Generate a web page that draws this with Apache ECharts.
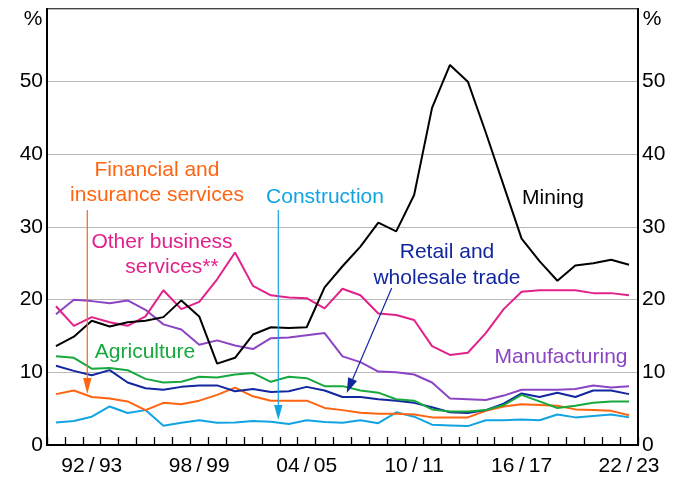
<!DOCTYPE html>
<html>
<head>
<meta charset="utf-8">
<script src="https://cdn.jsdelivr.net/npm/echarts@6/dist/echarts.min.js"></script>
<style>
  html, body { margin: 0; padding: 0; background: #fff; }
  #chart { width: 675px; height: 478px; }
</style>
</head>
<body>
<div id="chart"></div>
<script>
// financial years, 1990/91 to 2022/23
var years = ['90/91','91/92','92/93','93/94','94/95','95/96','96/97','97/98','98/99','99/00',
  '00/01','01/02','02/03','03/04','04/05','05/06','06/07','07/08','08/09','09/10',
  '10/11','11/12','12/13','13/14','14/15','15/16','16/17','17/18','18/19','19/20',
  '20/21','21/22','22/23'];
var shownYears = ['92/93','98/99','04/05','10/11','16/17','22/23'];
var yTicks = [0, 10, 20, 30, 40, 50];

var mining = [13.6,14.9,17.1,16.3,16.9,17.1,17.6,19.9,17.7,11.2,
  12.0,15.2,16.2,16.1,16.2,21.7,24.6,27.3,30.6,29.4,
  34.4,46.4,52.3,50.0,43.0,35.7,28.4,25.3,22.6,24.7,
  25.0,25.5,24.8];
var otherBusiness = [19.1,16.4,17.6,16.9,16.4,17.7,21.3,18.7,19.7,22.8,
  26.5,21.9,20.6,20.3,20.2,18.8,21.5,20.6,18.1,17.9,
  17.2,13.6,12.4,12.7,15.4,18.7,21.1,21.3,21.3,21.3,
  20.9,20.9,20.6];
var manufacturing = [18.0,20.0,19.8,19.5,19.9,18.6,16.6,15.9,13.8,14.4,
  13.7,13.2,14.7,14.8,15.1,15.4,12.2,11.4,10.1,10.0,
  9.7,8.6,6.4,6.3,6.2,6.8,7.6,7.6,7.6,7.7,
  8.2,7.9,8.1];
var agriculture = [12.2,12.0,10.5,10.6,10.3,9.1,8.6,8.7,9.4,9.3,
  9.7,9.9,8.7,9.4,9.2,8.1,8.1,7.5,7.2,6.3,
  6.1,4.9,4.6,4.6,4.8,5.5,6.9,6.0,5.1,5.4,
  5.8,6.0,6.0];
var retail = [10.9,10.2,9.6,10.3,8.6,7.8,7.6,8.0,8.2,8.2,
  7.4,7.7,7.3,7.4,8.0,7.5,6.6,6.6,6.3,6.1,
  5.8,5.2,4.5,4.4,4.8,5.7,7.1,6.6,7.2,6.6,
  7.5,7.5,7.0];
var financial = [7.0,7.5,6.6,6.4,6.0,4.8,5.8,5.6,6.1,6.9,
  7.9,6.7,6.1,6.1,6.1,5.1,4.8,4.45,4.3,4.3,
  4.2,3.8,3.8,3.8,4.7,5.3,5.6,5.5,5.4,4.9,
  4.8,4.7,4.1];
var construction = [3.1,3.3,3.9,5.3,4.4,4.8,2.65,3.05,3.4,3.05,
  3.1,3.3,3.2,2.9,3.4,3.15,3.05,3.4,3.0,4.5,
  3.9,2.8,2.7,2.6,3.4,3.4,3.5,3.4,4.2,3.8,
  4.0,4.2,3.8];

var FONT = "Arial, 'Liberation Sans', sans-serif";
var COL = {
  mining: '#000000',
  other: '#E2218A',
  manu: '#8B45C4',
  agri: '#17A83E',
  retail: '#1226A0',
  fin: '#FF6410',
  cons: '#12A3E2'
};

var chart = echarts.init(document.getElementById('chart'), null, { renderer: 'canvas' });

function lineSeries(name, data, color) {
  return {
    name: name,
    type: 'line',
    data: data,
    symbol: 'none',
    smooth: false,
    lineStyle: { color: color, width: 2 },
    z: 3
  };
}

function txt(x, y, text, color) {
  return {
    type: 'text',
    x: x, y: y,
    style: {
      text: text, fill: color, font: '21px ' + FONT,
      align: 'center', verticalAlign: 'middle'
    },
    z: 10
  };
}

// arrow annotation: thin line with a filled head at (x2, y2)
function arrow(x1, y1, x2, y2, color, headLen, headHalf) {
  var dx = x2 - x1, dy = y2 - y1;
  var len = Math.sqrt(dx * dx + dy * dy);
  var ux = dx / len, uy = dy / len;
  var bx = x2 - ux * headLen, by = y2 - uy * headLen;
  return [{
    type: 'line',
    shape: { x1: x1, y1: y1, x2: bx, y2: by },
    style: { stroke: color, lineWidth: 1.2 },
    z: 10
  }, {
    type: 'polygon',
    shape: { points: [[x2, y2], [bx - uy * headHalf, by + ux * headHalf], [bx + uy * headHalf, by - ux * headHalf]] },
    style: { fill: color },
    z: 10
  }];
}

function yAxis(pos) {
  return {
    type: 'value',
    position: pos,
    min: 0,
    max: 60,
    interval: 10,
    axisLine: { show: true, lineStyle: { color: '#000', width: 2 } },
    axisTick: { show: false },
    axisLabel: {
      color: '#000', fontSize: 21, fontFamily: FONT, margin: 4,
      formatter: function (v) { return yTicks.indexOf(v) >= 0 ? String(v) : ''; }
    },
    splitLine: { show: pos === 'left', lineStyle: { color: '#b9b9b9', width: 1.2 } }
  };
}

var graphics = [
  txt(33, 19, '%', '#000'),
  txt(652, 19, '%', '#000'),
  txt(157, 170, 'Financial and', COL.fin),
  txt(157, 195, 'insurance services', COL.fin),
  txt(325, 197, 'Construction', COL.cons),
  txt(162, 242, 'Other business', COL.other),
  txt(172, 267, 'services**', COL.other),
  txt(145, 352, 'Agriculture', COL.agri),
  txt(553, 198, 'Mining', COL.mining),
  txt(447, 252, 'Retail and', COL.retail),
  txt(447, 278, 'wholesale trade', COL.retail),
  txt(561, 357, 'Manufacturing', COL.manu)
].concat(
  arrow(87.3, 210, 87.3, 394, COL.fin, 16, 4.2),
  arrow(278.3, 210, 278.3, 420, COL.cons, 15, 4.2),
  arrow(391.7, 288, 346.7, 393, COL.retail, 15, 4.8)
);

chart.setOption({
  backgroundColor: '#fff',
  animation: false,
  grid: {
    left: 47, right: 37, top: 9, bottom: 33,
    show: true, borderColor: '#444', borderWidth: 2, backgroundColor: 'transparent'
  },
  xAxis: {
    type: 'category',
    data: years,
    boundaryGap: true,
    axisLine: { lineStyle: { color: '#000', width: 2 } },
    axisTick: { show: true, inside: true, length: 8, interval: 0, lineStyle: { color: '#000', width: 1.3 } },
    axisLabel: {
      interval: 0,
      color: '#000', fontSize: 21, fontFamily: FONT, margin: 11,
      formatter: function (v) {
        return shownYears.indexOf(v) >= 0 ? v.replace('/', '\u2009/\u2009') : '';
      }
    },
    splitLine: { show: false }
  },
  yAxis: [yAxis('left'), yAxis('right')],
  series: [
    lineSeries('Construction', construction, COL.cons),
    lineSeries('Financial and insurance services', financial, COL.fin),
    lineSeries('Retail and wholesale trade', retail, COL.retail),
    lineSeries('Agriculture', agriculture, COL.agri),
    lineSeries('Manufacturing', manufacturing, COL.manu),
    lineSeries('Other business services', otherBusiness, COL.other),
    lineSeries('Mining', mining, COL.mining)
  ],
  graphic: graphics
});
</script>
</body>
</html>
